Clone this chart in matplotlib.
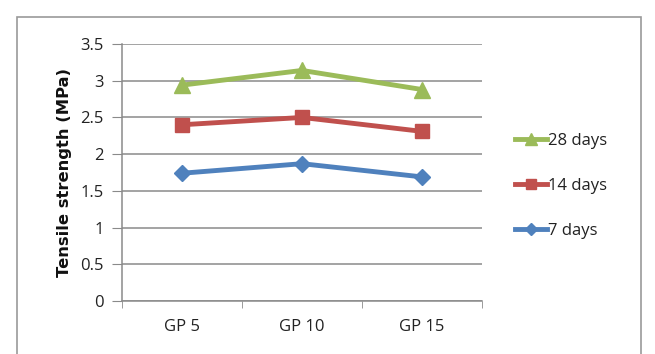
import matplotlib
matplotlib.use('Agg')
import matplotlib.pyplot as plt
from matplotlib.patches import Rectangle

plt.rcParams['font.family'] = ['Open Sans', 'DejaVu Sans']

mixes = ['GP 5', 'GP 10', 'GP 15']
days_7 = [1.74, 1.87, 1.69]
days_14 = [2.40, 2.50, 2.31]
days_28 = [2.94, 3.14, 2.88]

grey = '#8a8a8a'
txt = '#222222'

fig = plt.figure(figsize=(6.55, 3.54), dpi=100)
# outer chart frame
fig.patches.append(Rectangle((17 / 655, -0.05), (641 - 17) / 655, 1.05 - 17 / 354,
                             transform=fig.transFigure, fill=False,
                             edgecolor='#9a9a9a', linewidth=1.2))

ax = fig.add_axes([122 / 655, 1 - 301 / 354, (482 - 122) / 655, (301 - 44) / 354])
x = range(len(mixes))

l7, = ax.plot(x, days_7, color='#4F81BD', lw=3.5, marker='D', ms=8, label='7 days')
l14, = ax.plot(x, days_14, color='#C0504D', lw=3.5, marker='s', ms=10, label='14 days')
l28, = ax.plot(x, days_28, color='#9BBB59', lw=3.5, marker='^', ms=11, label='28 days')

ax.set_xlim(-0.5, 2.5)
ax.set_ylim(0, 3.5)
ax.set_yticks([0, 0.5, 1, 1.5, 2, 2.5, 3, 3.5])
ax.set_yticklabels(['0', '0.5', '1', '1.5', '2', '2.5', '3', '3.5'])
ax.set_xticks(list(x))
ax.set_xticklabels(mixes)
ax.set_xticks([-0.5, 0.5, 1.5, 2.5], minor=True)
ax.tick_params(axis='x', which='major', length=0, pad=13, labelsize=12, colors=txt)
ax.tick_params(axis='x', which='minor', length=5, direction='out', color=grey)
ax.tick_params(axis='y', length=7, color=grey, labelsize=12, colors=txt, pad=6)
ax.yaxis.grid(True, color=grey, linewidth=1.1)
ax.set_axisbelow(True)
for s in ['top', 'right']:
    ax.spines[s].set_visible(False)
for s in ['left', 'bottom']:
    ax.spines[s].set_color(grey)
    ax.spines[s].set_linewidth(1.1)

ax.set_ylabel('Tensile strength (MPa)', fontsize=11.8, fontweight='bold',
              family='DejaVu Sans', color='#111111', labelpad=6)

ax.legend(handles=[l28, l14, l7], loc='center left', bbox_to_anchor=(1.05, 0.447),
          frameon=False, fontsize=12, handlelength=1.9, handletextpad=0.05,
          labelspacing=1.75, markerscale=0.75, labelcolor=txt)

plt.savefig('out.png', dpi=100)
